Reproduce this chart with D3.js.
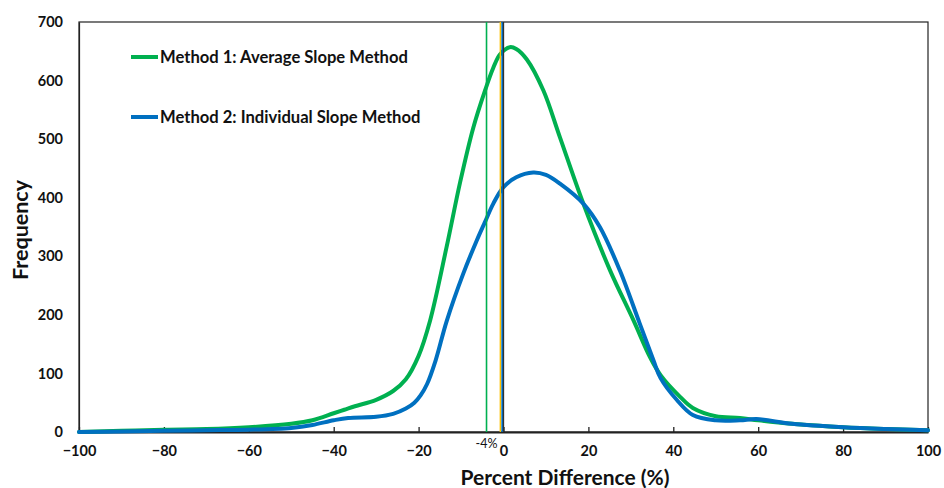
<!DOCTYPE html>
<html>
<head>
<meta charset="utf-8">
<script src="https://cdn.jsdelivr.net/npm/d3@7"></script>
<style>
  html, body { margin: 0; padding: 0; background: #fff; }
  svg { display: block; }
</style>
</head>
<body>
<div id="chart"></div>
<script>
// values
const method1X = [-100, -90, -80, -70, -60, -50, -45, -40, -37.5, -35, -30, -26, -23, -20, -17.3, -13.4, -10.2, -7.1, -4.4, -2.4, -0.8, 1.5, 3, 5.5, 9.4, 13.3, 18.8, 25.1, 30.6, 34.5, 37, 41.6, 44.6, 50, 55.7, 60, 68, 80, 90, 100];
const method1Y = [0, 2, 4, 5, 8, 14, 20, 32, 38, 44, 55, 70, 90, 130, 190, 316, 427, 520, 582, 622, 645, 657, 654, 636, 583, 503, 390, 276, 191, 128, 97, 60, 41, 27, 24, 20, 14, 8, 5, 3];

const method2X = [-100, -90, -80, -70, -60, -50, -45, -40, -36.6, -30, -26, -23, -21, -19.5, -18, -16, -13.4, -9.5, -6.3, -4.4, -2.4, 0, 3, 7, 10, 13.3, 18.8, 22.7, 27.4, 32.1, 35.3, 37, 40.8, 44.6, 50, 55.7, 59.6, 68, 80, 90, 100];
const method2Y = [0, 1, 2, 3, 4, 7, 12, 20, 24, 26, 31, 40, 50, 63, 82, 122, 189, 270, 327, 358, 390, 418, 435, 443, 439, 424, 390, 350, 276, 185, 123, 92, 55, 29, 20, 20, 22, 14, 8, 5, 3];

const seriesNames = ["Method 1: Average Slope Method", "Method 2: Individual Slope Method"];
const seriesColors = ["#00b050", "#0070c0"];

const markerValues = [-4, -0.75, -0.3, 0];
const markerColors = ["#00b050", "#ffc000", "#0070c0", "#333333"];
const markerWidths = [1.6, 1.4, 1.8, 1.3];

const xTicks = [-100, -80, -60, -40, -20, 0, 20, 40, 60, 80, 100];
const yTicks = [0, 100, 200, 300, 400, 500, 600, 700];

const width = 944;
const height = 488;
const margin = { top: 22, right: 16, bottom: 56, left: 79 };
const font = "Lato, 'Open Sans', sans-serif";

const svg = d3.select("#chart")
  .append("svg")
  .attr("width", width)
  .attr("height", height);

const x = d3.scaleLinear().domain([-100, 100]).range([margin.left, width - margin.right]);
const y = d3.scaleLinear().domain([0, 700]).range([height - margin.bottom, margin.top]);

// frame
svg.append("rect")
  .attr("x", x(-100))
  .attr("y", y(700))
  .attr("width", x(100) - x(-100))
  .attr("height", y(0) - y(700))
  .attr("fill", "none")
  .attr("stroke", "#222")
  .attr("stroke-width", 1.2);

// x axis, ticks pointing inward
const xAxis = svg.append("g")
  .attr("transform", `translate(0,${y(0)})`)
  .call(d3.axisBottom(x).tickValues(xTicks).tickSizeInner(-5).tickSizeOuter(0).tickPadding(14));
xAxis.select(".domain").attr("stroke", "#222").attr("stroke-width", 1.8);
xAxis.selectAll(".tick line").attr("stroke", "#222").attr("stroke-width", 1.3);
xAxis.selectAll("text")
  .attr("font-family", font)
  .attr("font-size", 14.5)
  .attr("font-weight", 700)
  .attr("fill", "#111");

const yAxis = svg.append("g")
  .attr("transform", `translate(${x(-100)},0)`)
  .call(d3.axisLeft(y).tickValues(yTicks).tickSize(0).tickPadding(16));
yAxis.select(".domain").attr("stroke", "#222").attr("stroke-width", 1.2);
yAxis.selectAll("text")
  .attr("font-family", font)
  .attr("font-size", 14.5)
  .attr("font-weight", 700)
  .attr("fill", "#111");

// curves
const line = d3.line()
  .x((d) => x(d[0]))
  .y((d) => y(d[1]))
  .curve(d3.curveCatmullRom.alpha(0.5));

const series = [
  d3.zip(method1X, method1Y),
  d3.zip(method2X, method2Y)
];

series.forEach((points, i) => {
  svg.append("path")
    .datum(points)
    .attr("d", line)
    .attr("fill", "none")
    .attr("stroke", seriesColors[i])
    .attr("stroke-width", 4)
    .attr("stroke-linejoin", "round")
    .attr("stroke-linecap", "round");
});

// vertical reference lines
markerValues.forEach((v, i) => {
  svg.append("line")
    .attr("x1", x(v))
    .attr("x2", x(v))
    .attr("y1", y(700))
    .attr("y2", y(0))
    .attr("stroke", markerColors[i])
    .attr("stroke-width", markerWidths[i]);
});

svg.append("text")
  .attr("x", x(-4))
  .attr("y", y(0) + 16)
  .attr("font-family", font)
  .attr("font-size", 12.5)
  .attr("fill", "#111")
  .attr("text-anchor", "middle")
  .text("-4%");

// legend
seriesNames.forEach((name, i) => {
  const ly = 57 + i * 60;
  svg.append("line")
    .attr("x1", 131)
    .attr("x2", 158)
    .attr("y1", ly)
    .attr("y2", ly)
    .attr("stroke", seriesColors[i])
    .attr("stroke-width", 4);
  svg.append("text")
    .attr("x", 160)
    .attr("y", ly + 6)
    .attr("font-family", font)
    .attr("font-size", 16.6)
    .attr("font-weight", 700)
    .attr("fill", "#111")
    .text(name);
});

// axis titles
svg.append("text")
  .attr("x", 565)
  .attr("y", 485)
  .attr("font-family", font)
  .attr("font-size", 21)
  .attr("font-weight", 700)
  .attr("fill", "#111")
  .attr("text-anchor", "middle")
  .text("Percent Difference (%)");

svg.append("text")
  .attr("transform", "translate(28,230) rotate(-90)")
  .attr("font-family", font)
  .attr("font-size", 21.5)
  .attr("font-weight", 700)
  .attr("fill", "#111")
  .attr("text-anchor", "middle")
  .text("Frequency");
</script>
</body>
</html>
